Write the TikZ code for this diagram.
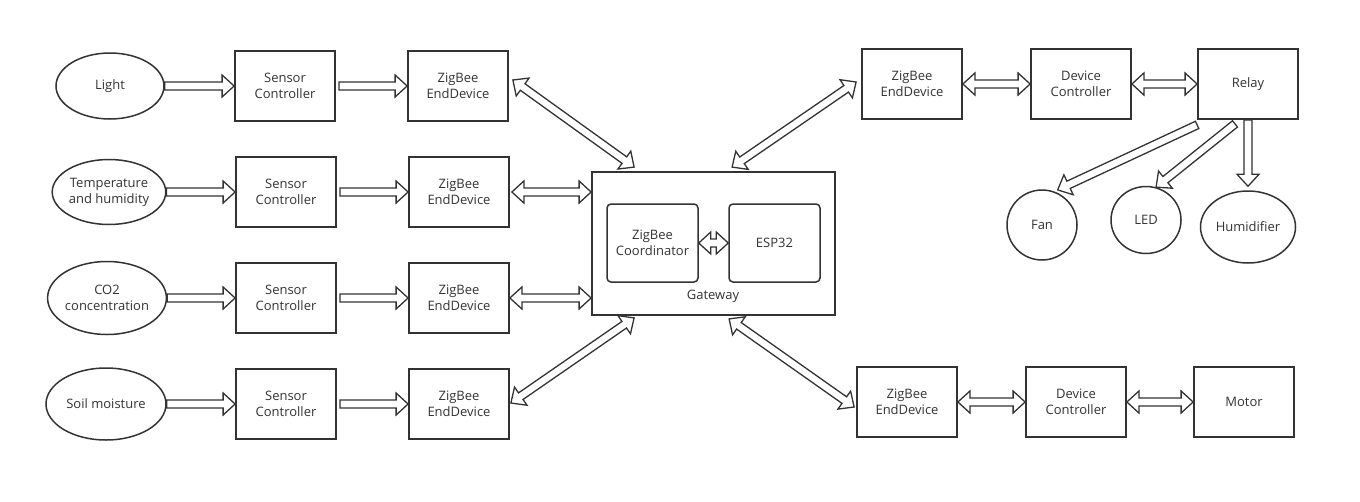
\documentclass[tikz,border=0pt]{standalone}
\usepackage{fontspec}
\setmainfont{Open Sans}
\usetikzlibrary{calc, shapes.geometric}

\definecolor{ink}{HTML}{333333}
\newcommand{\shaftw}{4pt}
\newcommand{\headw}{11pt}
\newcommand{\headl}{12pt}

\tikzset{
  label font/.style={font=\fontsize{13}{16}\selectfont, text=ink, align=center},
  box/.style={draw=ink, line width=1.8pt, minimum width=100pt, minimum height=70pt, label font},
  blob/.style={ellipse, draw=ink, line width=1.5pt, inner sep=0pt, label font},
  core/.style={draw=ink, line width=1.5pt, rounded corners=4pt, minimum width=91pt, minimum height=78pt, label font},
  onearrow/.style={draw=ink, line width=1.3pt, to path={
    ($(\tikztostart)!\shaftw!90:(\tikztotarget)$)
    -- ($($(\tikztotarget)!\headl!(\tikztostart)$)!\shaftw!90:(\tikztotarget)$)
    -- ($($(\tikztotarget)!\headl!(\tikztostart)$)!\headw!90:(\tikztotarget)$)
    -- (\tikztotarget)
    -- ($($(\tikztotarget)!\headl!(\tikztostart)$)!\headw!-90:(\tikztotarget)$)
    -- ($($(\tikztotarget)!\headl!(\tikztostart)$)!\shaftw!-90:(\tikztotarget)$)
    -- ($(\tikztostart)!\shaftw!-90:(\tikztotarget)$)
    -- cycle}},
  twoarrow/.style={draw=ink, line width=1.3pt, to path={
    ($($(\tikztostart)!\headl!(\tikztotarget)$)!\headw!90:(\tikztotarget)$)
    -- ($($(\tikztostart)!\headl!(\tikztotarget)$)!\shaftw!90:(\tikztotarget)$)
    -- ($($(\tikztotarget)!\headl!(\tikztostart)$)!\shaftw!90:(\tikztotarget)$)
    -- ($($(\tikztotarget)!\headl!(\tikztostart)$)!\headw!90:(\tikztotarget)$)
    -- (\tikztotarget)
    -- ($($(\tikztotarget)!\headl!(\tikztostart)$)!\headw!-90:(\tikztotarget)$)
    -- ($($(\tikztotarget)!\headl!(\tikztostart)$)!\shaftw!-90:(\tikztotarget)$)
    -- ($($(\tikztostart)!\headl!(\tikztotarget)$)!\shaftw!-90:(\tikztotarget)$)
    -- ($($(\tikztostart)!\headl!(\tikztotarget)$)!\headw!-90:(\tikztotarget)$)
    -- (\tikztostart)
    -- cycle}}
}

\begin{document}
\begin{tikzpicture}[x=1pt, y=-1pt]
  \useasboundingbox (0,0) rectangle (1360,501);

  % sensors
  \node[blob, minimum width=108pt, minimum height=66pt] (light) at (110,86) {Light};
  \node[blob, minimum width=112pt, minimum height=65pt] (temp) at (109,192) {Temperature\\and humidity};
  \node[blob, minimum width=116pt, minimum height=73pt] (co2) at (107,298) {CO2\\concentration};
  \node[blob, minimum width=120pt, minimum height=72pt] (soil) at (106,404) {Soil moisture};

  \node[box] (sc1) at (285,86) {Sensor\\Controller};
  \node[box] (sc2) at (286,192) {Sensor\\Controller};
  \node[box] (sc3) at (286,298) {Sensor\\Controller};
  \node[box] (sc4) at (286,404) {Sensor\\Controller};

  \node[box] (ze1) at (458,86) {ZigBee\\EndDevice};
  \node[box] (ze2) at (459,192) {ZigBee\\EndDevice};
  \node[box] (ze3) at (459,298) {ZigBee\\EndDevice};
  \node[box] (ze4) at (459,404) {ZigBee\\EndDevice};

  % gateway
  \node[box, minimum width=243pt, minimum height=143pt] (gw) at (713.5,243.5) {};
  \node[core] (zc) at (652.5,243) {ZigBee\\Coordinator};
  \node[core] (esp) at (774.5,243) {ESP32};
  \node[label font] (gwname) at (713,296) {Gateway};

  % actuators
  \node[box] (zer) at (912,84) {ZigBee\\EndDevice};
  \node[box] (dcr) at (1081,84) {Device\\Controller};
  \node[box] (relay) at (1248,84) {Relay};
  \node[blob, circle, minimum size=70pt] (fan) at (1042,225) {Fan};
  \node[blob, minimum width=70pt, minimum height=67pt] (led) at (1146,220) {LED};
  \node[blob, minimum width=95pt, minimum height=72pt] (hum) at (1248,227) {Humidifier};

  \node[box] (zem) at (907,402) {ZigBee\\EndDevice};
  \node[box] (dcm) at (1076,402) {Device\\Controller};
  \node[box] (motor) at (1244,402) {Motor};

  \draw[onearrow] (light.east) to (sc1.west);
  \draw[onearrow] (temp.east) to (sc2.west);
  \draw[onearrow] (co2.east) to (sc3.west);
  \draw[onearrow] (soil.east) to (sc4.west);
  \draw[onearrow] ([xshift=3pt]sc1.east) to (ze1.west);
  \draw[onearrow] ([xshift=3pt]sc2.east) to (ze2.west);
  \draw[onearrow] ([xshift=3pt]sc3.east) to (ze3.west);
  \draw[onearrow] ([xshift=3pt]sc4.east) to (ze4.west);

  \draw[twoarrow] ([xshift=4pt,yshift=6pt]ze1.east) to ([xshift=43pt,yshift=4pt]gw.north west);
  \draw[twoarrow] ([xshift=2pt]ze2.east) to (ze2.east -| gw.west);
  \draw[twoarrow] (ze3.east) to (ze3.east -| gw.west);
  \draw[twoarrow] ([xshift=1pt,yshift=1pt]ze4.east) to ([xshift=43pt,yshift=-2pt]gw.south west);
  \draw[twoarrow] (zc.east) to (esp.west);

  \draw[twoarrow] ([xshift=141pt,yshift=4pt]gw.north west) to ([xshift=-5pt,yshift=2pt]zer.west);
  \draw[twoarrow] ([xshift=138pt,yshift=-3pt]gw.south west) to ([xshift=-2pt,yshift=-5pt]zem.west);
  \draw[twoarrow] (zer.east) to (dcr.west);
  \draw[twoarrow] (dcr.east) to (relay.west);
  \draw[twoarrow] (zem.east) to (dcm.west);
  \draw[twoarrow] (dcm.east) to (motor.west);

  \draw[onearrow] ([yshift=-5pt]relay.south west) to ([yshift=3pt]fan.64);
  \draw[onearrow] ([xshift=-13pt,yshift=-4pt]relay.south) to (led.73);
  \draw[onearrow] (relay.south) to ([yshift=4pt]hum.north);
\end{tikzpicture}
\end{document}
